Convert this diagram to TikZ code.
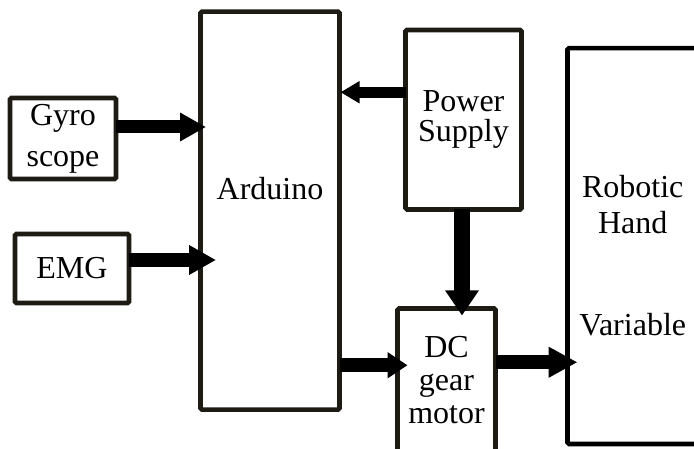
\documentclass[tikz,border=0pt]{standalone}
\usepackage{fontspec}
\setmainfont{Liberation Serif}
\usetikzlibrary{arrows.meta}
\definecolor{boxline}{RGB}{30,27,20}
\begin{document}
\begin{tikzpicture}[
    x=1pt, y=-1pt,
    block/.style={rectangle, draw=boxline, line width=4.6pt, rounded corners=1.5pt, fill=white,
        inner sep=0pt, outer sep=0pt, align=center, font=\fontsize{32}{35}\selectfont},
    boxtext/.style={font=\fontsize{32}{35}\selectfont, align=center},
    bigarrow/.style={-{Triangle[width=28pt,length=27pt]}, line width=13.5pt, black},
]
    \useasboundingbox (0,0) rectangle (694,449);
    \clip (0,0) rectangle (694,449);

    % Blocks
    \node[block, minimum width=106pt, minimum height=81pt] (gyro) at (63,138.5) {Gyro\\[6pt]scope};
    \node[block, minimum width=114pt, minimum height=69pt] (emg) at (72,268.5) {EMG};
    \node[block, minimum width=139pt, minimum height=398pt,
        label={[boxtext, yshift=22pt]center:Arduino}] (arduino) at (270,210.6) {};
    \node[block, minimum width=116pt, minimum height=179.5pt] (power) at (463.5,119.75) {Power\\[-5pt]Supply};
    \node[block, minimum width=98pt, minimum height=143.5pt] (dc) at (446.5,380.25) {DC\\[-2pt]gear\\[-2pt]motor};
    \node[block, draw=black, minimum width=132.5pt, minimum height=395.8pt,
        label={[boxtext, yshift=-10pt, xshift=-1pt]center:Robotic\\[1pt]Hand\\[67pt]Variable}] (robot) at (633.75,246.1) {};

    % Inputs to Arduino
    \draw[bigarrow, line width=13pt, -{Triangle[width=27pt,length=26pt]}, shorten >=-5.5pt]
        ([yshift=11.5pt]gyro.east) -- ([yshift=11.5pt]gyro.east -| arduino.west);
    \draw[bigarrow, line width=14pt, shorten >=-15.5pt]
        ([yshift=8.5pt]emg.east) -- ([yshift=8.5pt]emg.east -| arduino.west);

    % Power supply
    \draw[bigarrow, line width=11pt, -{Triangle[width=21pt,length=19pt]}, shorten >=1pt]
        ([yshift=27.5pt]power.west) -- ([yshift=27.5pt]power.west -| arduino.east);
    \draw[bigarrow, line width=16pt, -{Triangle[width=32pt,length=25pt]}, shorten >=-7pt]
        ([xshift=-1.5pt]power.south) -- ([xshift=-1.5pt]power.south |- dc.north);

    % Outputs
    \draw[bigarrow, line width=14pt, -{Triangle[width=25pt,length=20pt]}, shorten >=-10pt]
        ([yshift=15pt]dc.west -| arduino.east) -- ([yshift=15pt]dc.west);
    \draw[bigarrow, line width=14pt, -{Triangle[width=29pt,length=29pt]}, shorten >=-10pt]
        ([yshift=18pt]dc.east) -- ([yshift=18pt]dc.east -| robot.west);
\end{tikzpicture}
\end{document}
